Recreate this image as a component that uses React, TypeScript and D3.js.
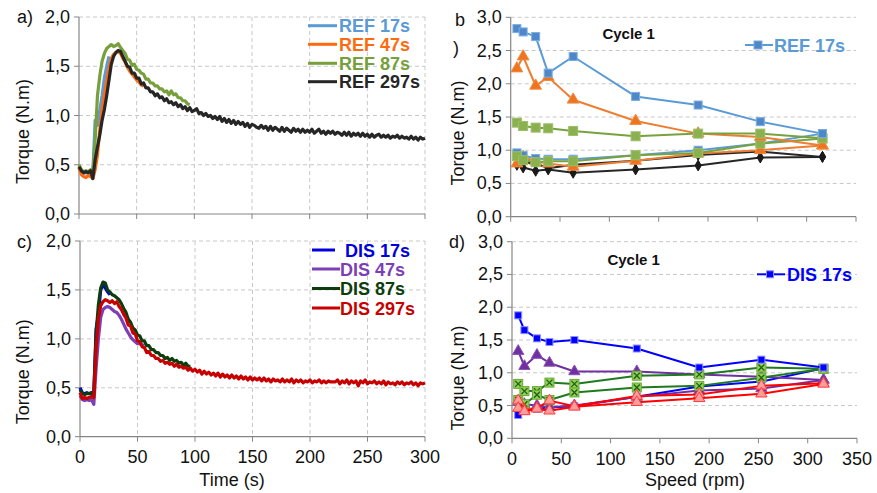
import React from 'react';
import * as d3 from 'd3';

const FONT = "'Liberation Sans', Arial, Helvetica, sans-serif";
const SAMPLE_STEP_S = 2;

// ---------- Panel a) REF torque vs time (sampled every 2 s) ----------
const ref17sTime = [0.47, 0.43, 0.41, 0.42, 0.41, 0.43, 0.42, 0.95, 0.9, 1.05, 1.2, 1.38, 1.5, 1.6];
const ref47sTime = [
  0.47, 0.4, 0.38, 0.37, 0.39, 0.38, 0.36, 0.45, 0.6, 0.85,
  1.05, 1.2, 1.35, 1.48, 1.58, 1.62, 1.64, 1.65, 1.63, 1.58,
  1.54, 1.49, 1.45, 1.42, 1.39, 1.36, 1.34, 1.31, 1.3,
];
const ref87sTime = [
  0.5, 0.45, 0.43, 0.44, 0.43, 0.45, 0.42, 0.75, 1.2, 1.4,
  1.55, 1.63, 1.68, 1.7, 1.72, 1.7, 1.71, 1.73, 1.69, 1.66,
  1.63, 1.57, 1.56, 1.51, 1.52, 1.47, 1.46, 1.43, 1.42, 1.37,
  1.37, 1.33, 1.33, 1.3, 1.3, 1.27, 1.27, 1.24, 1.25, 1.21,
  1.25, 1.21, 1.22, 1.18, 1.18, 1.15, 1.15, 1.12, 1.11,
];
const ref297sTime = [
  0.48, 0.44, 0.42, 0.43, 0.42, 0.44, 0.36, 0.55, 0.68, 0.8,
  0.95, 1.06, 1.2, 1.36, 1.52, 1.6, 1.64, 1.66, 1.65, 1.6,
  1.55, 1.5, 1.49, 1.43, 1.43, 1.38, 1.38, 1.32, 1.33, 1.28,
  1.28, 1.24, 1.24, 1.2, 1.22, 1.18, 1.19, 1.15, 1.17, 1.13,
  1.14, 1.11, 1.13, 1.09, 1.11, 1.07, 1.09, 1.05, 1.08, 1.04,
  1.05, 1.07, 1.02, 1.03, 1.0, 1.02, 0.99, 1.0, 0.97, 0.99,
  0.96, 0.99, 0.94, 0.97, 0.93, 0.96, 0.92, 0.95, 0.91, 0.94,
  0.91, 0.93, 0.89, 0.92, 0.88, 0.91, 0.9, 0.88, 0.87, 0.9,
  0.87, 0.89, 0.85, 0.89, 0.85, 0.88, 0.86, 0.84, 0.88, 0.84,
  0.87, 0.85, 0.83, 0.87, 0.84, 0.86, 0.83, 0.86, 0.83, 0.85,
  0.83, 0.86, 0.82, 0.84, 0.86, 0.82, 0.84, 0.81, 0.84, 0.82,
  0.84, 0.81, 0.83, 0.82, 0.8, 0.83, 0.8, 0.83, 0.79, 0.82,
  0.8, 0.82, 0.79, 0.82, 0.79, 0.81, 0.78, 0.81, 0.78, 0.8,
  0.81, 0.78, 0.8, 0.78, 0.8, 0.77, 0.79, 0.78, 0.8, 0.77,
  0.79, 0.77, 0.78, 0.76, 0.79, 0.76, 0.78, 0.75, 0.78, 0.76,
  0.77,
];

// ---------- Panel c) DIS torque vs time (sampled every 2 s) ----------
const dis17sTime = [0.5, 0.45, 0.44, 0.45, 0.44, 0.45, 0.42, 1.1, 1.25, 1.5, 1.55, 1.52, 1.48, 1.45];
const dis47sTime = [
  0.42, 0.38, 0.37, 0.38, 0.37, 0.38, 0.33, 0.7, 1.0, 1.22,
  1.3, 1.32, 1.33, 1.32, 1.3, 1.28, 1.27, 1.24, 1.2, 1.15,
  1.1, 1.06, 1.02, 0.99, 0.97, 0.95, 0.95, 0.94, 0.93,
];
const dis87sTime = [
  0.48, 0.44, 0.43, 0.44, 0.44, 0.45, 0.44, 1.05, 1.35, 1.52,
  1.58, 1.57, 1.5, 1.48, 1.45, 1.44, 1.42, 1.4, 1.36, 1.31,
  1.27, 1.2, 1.17, 1.11, 1.09, 1.04, 1.03, 0.98, 0.98, 0.93,
  0.93, 0.89, 0.89, 0.86, 0.86, 0.83, 0.83, 0.8, 0.81, 0.78,
  0.8, 0.77, 0.78, 0.75, 0.76, 0.73, 0.75, 0.72, 0.72,
];
const dis297sTime = [
  0.45, 0.39, 0.4, 0.39, 0.4, 0.41, 0.4, 0.9, 1.2, 1.34,
  1.38, 1.4, 1.39, 1.37, 1.39, 1.36, 1.38, 1.33, 1.3, 1.25,
  1.21, 1.14, 1.13, 1.06, 1.05, 0.98, 0.97, 0.92, 0.91, 0.86,
  0.87, 0.83, 0.83, 0.8, 0.8, 0.77, 0.78, 0.75, 0.76, 0.74,
  0.75, 0.72, 0.74, 0.71, 0.72, 0.7, 0.71, 0.68, 0.7, 0.67,
  0.69, 0.66, 0.68, 0.64, 0.67, 0.64, 0.66, 0.63, 0.65, 0.62,
  0.65, 0.61, 0.64, 0.61, 0.63, 0.6, 0.63, 0.6, 0.62, 0.59,
  0.62, 0.59, 0.61, 0.58, 0.61, 0.58, 0.6, 0.58, 0.6, 0.57,
  0.6, 0.57, 0.59, 0.56, 0.59, 0.57, 0.58, 0.56, 0.59, 0.56,
  0.58, 0.56, 0.59, 0.55, 0.58, 0.56, 0.58, 0.55, 0.57, 0.56,
  0.58, 0.55, 0.57, 0.56, 0.58, 0.55, 0.57, 0.55, 0.57, 0.56,
  0.56, 0.56, 0.58, 0.54, 0.57, 0.55, 0.58, 0.54, 0.57, 0.55,
  0.57, 0.52, 0.57, 0.55, 0.58, 0.54, 0.56, 0.55, 0.57, 0.54,
  0.56, 0.54, 0.57, 0.53, 0.56, 0.54, 0.55, 0.53, 0.56, 0.54,
  0.56, 0.53, 0.55, 0.54, 0.56, 0.53, 0.55, 0.52, 0.55, 0.54,
  0.55,
];

// ---------- Panels b) and d): torque vs speed, Cycle 1 ----------
const speedsRpm = [6.3, 12.6, 25.3, 38, 63.3, 126.6, 190, 253, 316];

const ref17Upper = [2.83, 2.78, 2.71, 2.16, 2.41, 1.81, 1.68, 1.43, 1.25];
const ref17Lower = [0.96, 0.92, 0.875, 0.865, 0.865, 0.925, 1.0, 1.1, 1.25];
const ref47Upper = [2.23, 2.41, 1.97, 2.1, 1.76, 1.44, 1.25, 1.2, 1.07];
const ref47Lower = [0.8, 0.9, 0.83, 0.8, 0.75, 0.84, 0.95, 1.0, 1.07];
const ref87Upper = [1.415, 1.365, 1.34, 1.33, 1.29, 1.21, 1.25, 1.25, 1.18];
const ref87Lower = [0.91, 0.85, 0.82, 0.835, 0.835, 0.925, 0.96, 1.1, 1.175];
const ref297Upper = [0.9, 0.82, 0.8, 0.73, 0.78, 0.84, 0.93, 0.98, 0.9];
const ref297Lower = [0.78, 0.74, 0.69, 0.71, 0.66, 0.71, 0.77, 0.89, 0.9];

const dis17Upper = [1.876, 1.65, 1.525, 1.47, 1.5, 1.37, 1.08, 1.2, 1.08];
const dis17Lower = [0.356, 0.42, 0.45, 0.47, 0.49, 0.635, 0.79, 0.865, 1.07];
const dis47Upper = [1.33, 1.1, 1.27, 1.15, 1.02, 1.02, 0.975, 0.94, 0.89];
const dis47Lower = [0.55, 0.52, 0.5, 0.475, 0.5, 0.63, 0.73, 0.76, 0.89];
const dis87Upper = [0.83, 0.72, 0.72, 0.85, 0.83, 0.955, 0.975, 1.08, 1.06];
const dis87Lower = [0.585, 0.52, 0.665, 0.585, 0.7, 0.775, 0.8, 0.925, 1.06];
const dis297Upper = [0.575, 0.43, 0.46, 0.575, 0.49, 0.645, 0.67, 0.8, 0.84];
const dis297Lower = [0.46, 0.41, 0.45, 0.42, 0.48, 0.55, 0.61, 0.68, 0.83];

// ---------- ticks & labels ----------
const timeTicks = [0, 50, 100, 150, 200, 250, 300];
const speedTicks = [0, 50, 100, 150, 200, 250, 300, 350];
const torqueTicksTime = [0, 0.5, 1, 1.5, 2];
const torqueTicksSpeed = [0, 0.5, 1, 1.5, 2, 2.5, 3];
const refLabels = ['REF 17s', 'REF 47s', 'REF 87s', 'REF 297s'];
const disLabels = [' DIS 17s', 'DIS 47s', 'DIS 87s', 'DIS 297s'];

const fmt = (v: number) => d3.format('.1f')(v).replace('.', ',');
const AXIS = '#868686';
const GRID = '#c8c8c8';

type Box = { left: number; right: number; top: number; bottom: number };

function Frame({ box, x, y, xTicks, yTicks, vGrid, xLabels }: any) {
  return (
    <g>
      {yTicks.filter((t: number) => t > 0).map((t: number) => (
        <line key={'h' + t} x1={box.left} x2={box.right} y1={y(t)} y2={y(t)} stroke={GRID} strokeDasharray="4,3" />
      ))}
      {vGrid && xTicks.filter((t: number) => t > 0).map((t: number) => (
        <line key={'v' + t} x1={x(t)} x2={x(t)} y1={box.top} y2={box.bottom} stroke={GRID} strokeDasharray="4,3" />
      ))}
      <line x1={box.left} x2={box.left} y1={box.top} y2={box.bottom} stroke={AXIS} strokeWidth={1.2} />
      <line x1={box.left} x2={box.right} y1={box.bottom} y2={box.bottom} stroke={AXIS} strokeWidth={1.2} />
      {yTicks.map((t: number) => (
        <g key={'yt' + t}>
          <line x1={box.left - 5} x2={box.left} y1={y(t)} y2={y(t)} stroke={AXIS} />
          <text x={box.left - 9} y={y(t) + 6} textAnchor="end" fontSize={18} fill="#111">{fmt(t)}</text>
        </g>
      ))}
      {xTicks.map((t: number) => (
        <g key={'xt' + t}>
          <line x1={x(t)} x2={x(t)} y1={box.bottom} y2={box.bottom + 5} stroke={AXIS} />
          {xLabels && (
            <text x={x(t)} y={box.bottom + 26.5} textAnchor="middle" fontSize={18} fill="#111">{t}</text>
          )}
        </g>
      ))}
    </g>
  );
}

function TimeLines({ x, y, series }: any) {
  const line = d3.line<number>().x((_, i) => x(i * SAMPLE_STEP_S)).y((d) => y(d));
  return (
    <g>
      {series.map((s: any, i: number) => (
        <path key={i} d={line(s.values) || ''} fill="none" stroke={s.color} strokeWidth={3.2} strokeLinejoin="round" />
      ))}
    </g>
  );
}

function Marker({ kind, cx, cy, m }: any) {
  if (kind === 'square') {
    const s = m.size;
    return <rect x={cx - s / 2} y={cy - s / 2} width={s} height={s} fill={m.fill} stroke={m.stroke} strokeWidth={1} />;
  }
  if (kind === 'xsquare') {
    const s = m.size;
    const h = s / 2 - 1.5;
    return (
      <g>
        <rect x={cx - s / 2} y={cy - s / 2} width={s} height={s} fill={m.fill} stroke={m.stroke} strokeWidth={1} />
        <path d={`M${cx - h},${cy - h}L${cx + h},${cy + h}M${cx - h},${cy + h}L${cx + h},${cy - h}`} stroke={m.cross} strokeWidth={1.3} />
      </g>
    );
  }
  const sym = kind === 'triangle' ? d3.symbolTriangle : d3.symbolDiamond;
  return <path d={d3.symbol().type(sym).size(m.area)()!} transform={`translate(${cx},${cy})`} fill={m.fill} stroke={m.stroke} strokeWidth={1} />;
}

function SpeedLines({ x, y, series }: any) {
  const line = d3.line<number>().x((_, i) => x(speedsRpm[i])).y((d) => y(d));
  return (
    <g>
      {series.map((s: any, i: number) => (
        <g key={i}>
          <path d={line(s.values) || ''} fill="none" stroke={s.color} strokeWidth={2} strokeLinejoin="round" />
          {s.values.map((v: number, j: number) => (
            <Marker key={j} kind={s.marker} cx={x(speedsRpm[j])} cy={y(v)} m={s.m} />
          ))}
        </g>
      ))}
    </g>
  );
}

export default function App() {
  const boxA: Box = { left: 79, right: 425, top: 17, bottom: 214 };
  const boxC: Box = { left: 80, right: 425, top: 241, bottom: 436.7 };
  const boxB: Box = { left: 510.7, right: 856, top: 17.3, bottom: 216.7 };
  const boxD: Box = { left: 512, right: 857, top: 241.7, bottom: 438.3 };

  const xA = d3.scaleLinear().domain([0, 300]).range([boxA.left, boxA.right]);
  const yA = d3.scaleLinear().domain([0, 2]).range([boxA.bottom, boxA.top]);
  const xC = d3.scaleLinear().domain([0, 300]).range([boxC.left, boxC.right]);
  const yC = d3.scaleLinear().domain([0, 2]).range([boxC.bottom, boxC.top]);
  const xB = d3.scaleLinear().domain([0, 350]).range([boxB.left, boxB.right]);
  const yB = d3.scaleLinear().domain([0, 3]).range([boxB.bottom, boxB.top]);
  const xD = d3.scaleLinear().domain([0, 350]).range([boxD.left, boxD.right]);
  const yD = d3.scaleLinear().domain([0, 3]).range([boxD.bottom, boxD.top]);

  const refColors = ['#5b9bd5', '#ff6a10', '#77a03c', '#262626'];
  const disColors = ['#0000dd', '#7d3fb5', '#0c3d0c', '#c80000'];

  const seriesA = [ref17sTime, ref47sTime, ref87sTime, ref297sTime].map((v, i) => ({ values: v, color: refColors[i] }));
  const seriesC = [dis17sTime, dis47sTime, dis87sTime, dis297sTime].map((v, i) => ({ values: v, color: disColors[i] }));

  const mRef17 = { size: 8, fill: '#4f87c9', stroke: '#7aaee0' };
  const mRef47 = { area: 60, fill: '#ef7420', stroke: '#f08a40' };
  const mRef87 = { size: 9, fill: '#8ab050', stroke: '#9cbf65' };
  const mRef297 = { area: 34, fill: '#1a1a1a', stroke: '#1a1a1a' };
  const seriesB = [
    { values: ref297Upper, color: '#262626', marker: 'diamond', m: mRef297 },
    { values: ref297Lower, color: '#262626', marker: 'diamond', m: mRef297 },
    { values: ref47Lower, color: '#ed7d31', marker: 'triangle', m: mRef47 },
    { values: ref17Lower, color: '#5b9bd5', marker: 'square', m: mRef17 },
    { values: ref87Lower, color: '#77a33f', marker: 'square', m: mRef87 },
    { values: ref47Upper, color: '#ed7d31', marker: 'triangle', m: mRef47 },
    { values: ref87Upper, color: '#77a33f', marker: 'square', m: mRef87 },
    { values: ref17Upper, color: '#5b9bd5', marker: 'square', m: mRef17 },
  ];

  const mDis17 = { size: 7, fill: '#0000ff', stroke: '#8f8fff' };
  const mDis47 = { area: 55, fill: '#7030a0', stroke: '#8a50b8' };
  const mDis87 = { size: 9, fill: '#92d050', stroke: '#6aa83a', cross: '#1b5e1b' };
  const mDis297 = { area: 55, fill: '#ff9c9c', stroke: '#ff3a3a' };
  const seriesD = [
    { values: dis17Lower, color: '#0000ff', marker: 'square', m: mDis17 },
    { values: dis47Lower, color: '#7030a0', marker: 'triangle', m: mDis47 },
    { values: dis47Upper, color: '#7030a0', marker: 'triangle', m: mDis47 },
    { values: dis87Upper, color: '#1f7a1f', marker: 'xsquare', m: mDis87 },
    { values: dis87Lower, color: '#1f7a1f', marker: 'xsquare', m: mDis87 },
    { values: dis297Upper, color: '#ff0000', marker: 'triangle', m: mDis297 },
    { values: dis297Lower, color: '#ff0000', marker: 'triangle', m: mDis297 },
    { values: dis17Upper, color: '#0000ff', marker: 'square', m: mDis17 },
  ];

  const legendRowsA = [25.7, 44.3, 63.3, 81.7];
  const legendRowsC = [250, 269, 288.5, 308];

  return (
    <svg width={877} height={493} style={{ position: 'absolute', left: 0, top: 0, background: '#fff' }} fontFamily={FONT}>
      <rect width={877} height={493} fill="#fff" />

      {/* Panel a */}
      <Frame box={boxA} x={xA} y={yA} xTicks={timeTicks} yTicks={torqueTicksTime} vGrid xLabels={false} />
      <TimeLines x={xA} y={yA} series={seriesA} />
      {refLabels.map((l, i) => (
        <g key={l}>
          <line x1={308} x2={337} y1={legendRowsA[i]} y2={legendRowsA[i]} stroke={refColors[i]} strokeWidth={3} />
          <text x={339} y={legendRowsA[i] + 6.5} fontSize={18} fontWeight="bold" fill={refColors[i]}>{l}</text>
        </g>
      ))}
      <text x={17} y={23} fontSize={18} fill="#111">a)</text>
      <text transform={`translate(29,${(boxA.top + boxA.bottom) / 2 + 16}) rotate(-90)`} textAnchor="middle" fontSize={18} fill="#111">Torque (N.m)</text>

      {/* Panel c */}
      <Frame box={boxC} x={xC} y={yC} xTicks={timeTicks} yTicks={torqueTicksTime} vGrid xLabels />
      <TimeLines x={xC} y={yC} series={seriesC} />
      {disLabels.map((l, i) => (
        <g key={l}>
          <line x1={312} x2={i === 0 ? 335 : 340} y1={legendRowsC[i]} y2={legendRowsC[i]} stroke={disColors[i]} strokeWidth={3} />
          <text x={340} y={legendRowsC[i] + 6.5} fontSize={18} fontWeight="bold" fill={disColors[i]} style={{ whiteSpace: 'pre' }}>{l}</text>
        </g>
      ))}
      <text x={17} y={248} fontSize={18} fill="#111">c)</text>
      <text transform={`translate(29,${(boxC.top + boxC.bottom) / 2 + 33}) rotate(-90)`} textAnchor="middle" fontSize={18} fill="#111">Torque (N.m)</text>
      <text x={232} y={485.5} textAnchor="middle" fontSize={18} fill="#111">Time (s)</text>

      {/* Panel b */}
      <Frame box={boxB} x={xB} y={yB} xTicks={speedTicks} yTicks={torqueTicksSpeed} vGrid={false} xLabels={false} />
      <SpeedLines x={xB} y={yB} series={seriesB} />
      <text x={628.7} y={38.5} textAnchor="middle" fontSize={15} fontWeight="bold" fill="#111">Cycle 1</text>
      <line x1={745} x2={773} y1={45} y2={45} stroke="#5b9bd5" strokeWidth={2} />
      <Marker kind="square" cx={758} cy={45} m={mRef17} />
      <text x={774} y={51.5} fontSize={18} fontWeight="bold" fill="#5b9bd5">REF 17s</text>
      <text x={455} y={26} fontSize={18} fill="#111">b</text>
      <text x={453} y={54} fontSize={18} fill="#111">)</text>
      <text transform={`translate(464,133) rotate(-90)`} textAnchor="middle" fontSize={18} fill="#111">Torque (N.m)</text>

      {/* Panel d */}
      <Frame box={boxD} x={xD} y={yD} xTicks={speedTicks} yTicks={torqueTicksSpeed} vGrid={false} xLabels />
      <SpeedLines x={xD} y={yD} series={seriesD} />
      <text x={633.7} y={264.5} textAnchor="middle" fontSize={15} fontWeight="bold" fill="#111">Cycle 1</text>
      <line x1={757} x2={785} y1={274.3} y2={274.3} stroke="#0000ff" strokeWidth={2} />
      <Marker kind="square" cx={770} cy={274.3} m={mDis17} />
      <text x={787} y={280.8} fontSize={18} fontWeight="bold" fill="#0000ff">DIS 17s</text>
      <text x={449} y={248} fontSize={18} fill="#111">d)</text>
      <text transform={`translate(464,378) rotate(-90)`} textAnchor="middle" fontSize={18} fill="#111">Torque (N.m)</text>
      <text x={695} y={485.5} textAnchor="middle" fontSize={18} fill="#111">Speed (rpm)</text>
    </svg>
  );
}
